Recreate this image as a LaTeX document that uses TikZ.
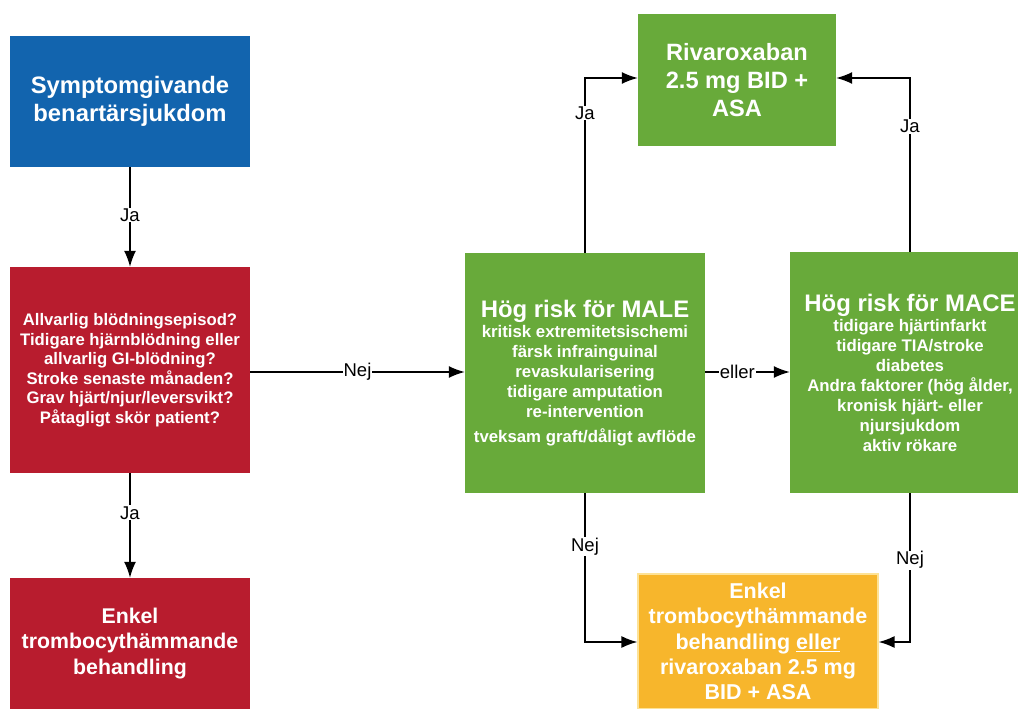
\documentclass[tikz,border=0pt]{standalone}
\usepackage{fontspec}
\setmainfont{Liberation Sans}
\usetikzlibrary{arrows.meta}
\definecolor{cblue}{RGB}{18,100,174}
\definecolor{cred}{RGB}{184,28,46}
\definecolor{cgreen}{RGB}{104,170,58}
\definecolor{cyellow}{RGB}{247,182,44}
\definecolor{cyborder}{RGB}{253,226,150}
\begin{document}
\begin{tikzpicture}[x=1pt,y=-1pt,
  box/.style={rectangle, inner sep=0pt, text=white, align=center, font=\bfseries},
  arr/.style={-{Latex[length=16pt,width=12pt]}, line width=1.5pt, black},
  lbl/.style={fill=white, inner sep=1pt, text=black, font=\fontsize{18.5}{20}\selectfont}]
\useasboundingbox (0,0) rectangle (1018,709);
\clip (0,0) rectangle (1018,709);
\node[box, fill=cblue, minimum width=240pt, minimum height=131pt,
  font=\bfseries\fontsize{23.8}{28}\selectfont] (sym) at (130,101.5)
  {Symptomgivande\\benartärsjukdom};
\node[box, fill=cred, minimum width=240pt, minimum height=206pt,
  font=\bfseries\fontsize{16.7}{19.5}\selectfont] (q) at (130,370)
  {Allvarlig blödningsepisod?\\Tidigare hjärnblödning eller\\allvarlig GI-blödning?\\Stroke senaste månaden?\\Grav hjärt/njur/leversvikt?\\Påtagligt skör patient?};
\node[box, fill=cred, minimum width=240pt, minimum height=131pt,
  font=\bfseries\fontsize{21.3}{25.5}\selectfont] (enk) at (130,643.5)
  {Enkel\\trombocythämmande\\behandling};
\node[box, fill=cgreen, minimum width=240pt, minimum height=240pt,
  font=\bfseries\fontsize{16.8}{20}\selectfont] (male) at (585,373)
  {{\fontsize{23.9}{25}\selectfont Hög risk för MALE}\\kritisk extremitetsischemi\\färsk infrainguinal\\revaskularisering\\tidigare amputation\\re-intervention\\[5pt]tveksam graft/dåligt avflöde};
\node[box, fill=cgreen, minimum width=240pt, minimum height=241pt,
  font=\bfseries\fontsize{16.8}{20}\selectfont] (mace) at (910,372.5)
  {{\fontsize{23.9}{25}\selectfont Hög risk för MACE}\\tidigare hjärtinfarkt\\tidigare TIA/stroke\\diabetes\\Andra faktorer (hög ålder,\\kronisk hjärt- eller\\njursjukdom\\aktiv rökare};
\node[box, fill=cgreen, minimum width=198pt, minimum height=132pt,
  font=\bfseries\fontsize{23.6}{28}\selectfont] (riv) at (737,80)
  {Rivaroxaban\\2.5 mg BID +\\ASA};
\node[box, fill=cyellow, draw=cyborder, line width=1.2pt, minimum width=240pt, minimum height=135pt,
  font=\bfseries\fontsize{21.5}{25.2}\selectfont] (alt) at (758,641.5)
  {Enkel\\trombocythämmande\\behandling \underline{eller}\\rivaroxaban 2.5 mg\\BID + ASA};
\draw[arr] (sym) -- node[lbl, pos=0.48] {Ja} (q);
\draw[arr] (q) -- node[lbl, pos=0.38] {Ja} (enk);
\draw[arr] (q.east |- 0,372) -- node[lbl, pos=0.5] {Nej} (male.west |- 0,372);
\draw[arr] (male.east |- 0,372) -- node[lbl, pos=0.38, inner sep=1pt] {eller} (mace.west |- 0,372);
\draw[arr] (male.north) |- node[lbl, pos=0.4] {Ja} (riv.west |- 0,78);
\draw[arr] (mace.north) |- node[lbl, pos=0.36] {Ja} (riv.east |- 0,78);
\draw[arr] (male.south) |- node[lbl, pos=0.18] {Nej} (alt.west |- 0,642);
\draw[arr] (mace.south) |- node[lbl, pos=0.225] {Nej} (alt.east |- 0,642);
\end{tikzpicture}
\end{document}
